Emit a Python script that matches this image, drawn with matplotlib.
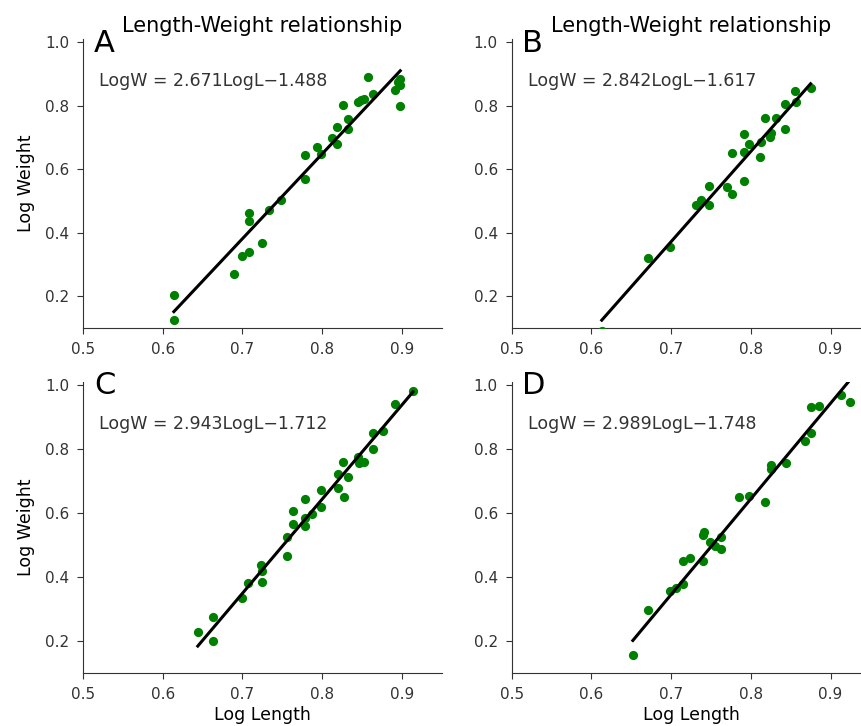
import matplotlib
matplotlib.use("Agg")
import matplotlib.pyplot as plt

# panel A
len_a = [0.614, 0.614, 0.690, 0.700, 0.708, 0.708, 0.708, 0.724, 0.733, 0.748,
         0.778, 0.778, 0.793, 0.799, 0.813, 0.819, 0.819, 0.826, 0.832, 0.833,
         0.845, 0.849, 0.853, 0.857, 0.864, 0.892, 0.898, 0.898, 0.898, 0.895]
wt_a = [0.204, 0.125, 0.272, 0.328, 0.341, 0.464, 0.436, 0.368, 0.473, 0.504,
        0.569, 0.644, 0.672, 0.648, 0.700, 0.679, 0.734, 0.803, 0.759, 0.727,
        0.813, 0.818, 0.822, 0.891, 0.837, 0.849, 0.884, 0.865, 0.799, 0.875]

# panel B
len_b = [0.613, 0.671, 0.699, 0.731, 0.738, 0.748, 0.748, 0.770, 0.776, 0.776,
         0.791, 0.791, 0.791, 0.798, 0.812, 0.813, 0.818, 0.824, 0.825, 0.831,
         0.843, 0.843, 0.856, 0.857, 0.875]
wt_b = [0.092, 0.320, 0.356, 0.488, 0.503, 0.488, 0.548, 0.545, 0.524, 0.651,
        0.564, 0.656, 0.711, 0.679, 0.639, 0.685, 0.761, 0.702, 0.716, 0.763,
        0.728, 0.807, 0.847, 0.813, 0.855]

# panel C
len_c = [0.644, 0.663, 0.663, 0.700, 0.707, 0.724, 0.725, 0.723, 0.756, 0.756,
         0.763, 0.763, 0.778, 0.778, 0.778, 0.787, 0.798, 0.799, 0.820, 0.820,
         0.827, 0.826, 0.833, 0.845, 0.846, 0.852, 0.864, 0.864, 0.876, 0.892,
         0.914]
wt_c = [0.226, 0.275, 0.199, 0.333, 0.381, 0.385, 0.419, 0.437, 0.465, 0.525,
        0.565, 0.604, 0.559, 0.643, 0.583, 0.596, 0.619, 0.672, 0.677, 0.722,
        0.648, 0.760, 0.713, 0.774, 0.757, 0.760, 0.799, 0.849, 0.856, 0.940,
        0.980]

# panel D
len_d = [0.652, 0.671, 0.699, 0.706, 0.715, 0.715, 0.724, 0.740, 0.740, 0.741,
         0.749, 0.755, 0.762, 0.762, 0.785, 0.798, 0.818, 0.825, 0.825, 0.844,
         0.868, 0.875, 0.875, 0.885, 0.913, 0.924]
wt_d = [0.155, 0.296, 0.356, 0.364, 0.377, 0.449, 0.460, 0.449, 0.531, 0.539,
        0.510, 0.496, 0.525, 0.487, 0.648, 0.651, 0.635, 0.750, 0.736, 0.757,
        0.825, 0.849, 0.929, 0.933, 0.969, 0.946]

labels = ["A", "B", "C", "D"]
slopes = [2.671, 2.842, 2.943, 2.989]
intercepts = [-1.488, -1.617, -1.712, -1.748]
lengths = [len_a, len_b, len_c, len_d]
weights = [wt_a, wt_b, wt_c, wt_d]

fig = plt.figure(figsize=(8.61, 7.26), dpi=100)
w = 0.4166
positions = [
    (0.0964, 0.548, w, 0.398),
    (0.5943, 0.548, w, 0.398),
    (0.0964, 0.0734, w, 0.401),
    (0.5943, 0.0734, w, 0.401),
]

for i, pos in enumerate(positions):
    ax = fig.add_axes(pos)
    x, y = lengths[i], weights[i]
    ax.scatter(x, y, s=44, color="green", zorder=3, linewidths=0)
    x0, x1 = min(x), max(x)
    ax.plot([x0, x1], [slopes[i] * x0 + intercepts[i], slopes[i] * x1 + intercepts[i]],
            color="black", linewidth=2.2, zorder=4)

    ax.set_xlim(0.5, 0.95)
    ax.set_ylim(0.1, 1.01)
    ax.set_xticks([0.5, 0.6, 0.7, 0.8, 0.9])
    ax.set_yticks([0.2, 0.4, 0.6, 0.8, 1.0])
    ax.spines["top"].set_visible(False)
    ax.spines["right"].set_visible(False)
    ax.spines["left"].set_color("#333333")
    ax.spines["bottom"].set_color("#333333")
    ax.tick_params(labelsize=11, colors="#333333", length=4.5, pad=5.5)

    ax.text(0.03, 1.035, labels[i], transform=ax.transAxes, fontsize=22,
            va="top", ha="left")
    ax.text(0.045, 0.855, f"LogW = {slopes[i]:.3f}LogL\u2212{abs(intercepts[i]):.3f}",
            transform=ax.transAxes, fontsize=12.5, va="center", ha="left",
            color="#333333")

    if i < 2:
        ax.set_title("Length-Weight relationship", fontsize=15, pad=5)
    else:
        ax.set_xlabel("Log Length", fontsize=12.5, labelpad=3)
    if i % 2 == 0:
        ax.set_ylabel("Log Weight", fontsize=12.5, labelpad=7)

plt.savefig("out.png", dpi=100)
